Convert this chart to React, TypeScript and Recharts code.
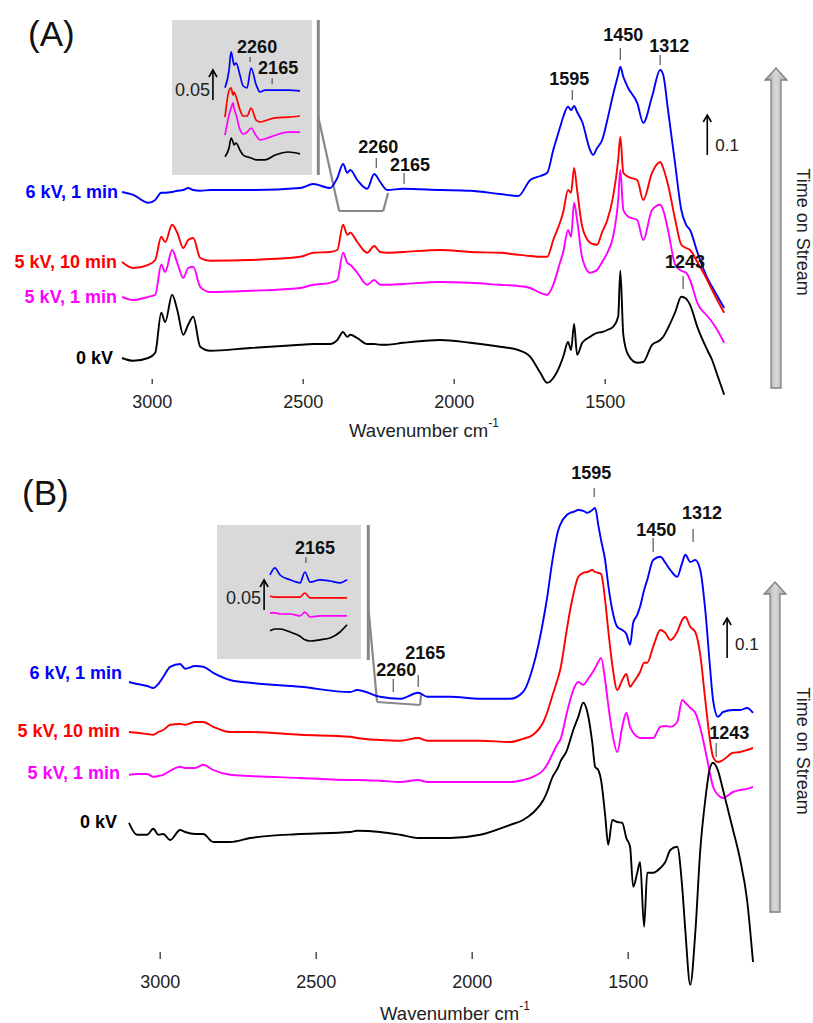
import React from "react";
import { LineChart, Line, XAxis, YAxis, ReferenceDot, ReferenceLine } from "recharts";

const FONT = "'Liberation Sans', Arial, sans-serif";

// ---- panel (A) ----
const wnA = [3100, 3063, 3013, 2990, 2970, 2957, 2934, 2917, 2897, 2881, 2864, 2841, 2808, 2676, 2510, 2467, 2411, 2387, 2368, 2354, 2344, 2321, 2288, 2265, 2245, 2222, 2169, 2046, 1947, 1848, 1788, 1748, 1715, 1692, 1672, 1649, 1639, 1623, 1613, 1603, 1593, 1576, 1550, 1540, 1527, 1510, 1493, 1474, 1457, 1450, 1440, 1424, 1394, 1374, 1345, 1318, 1308, 1292, 1268, 1248, 1232, 1219, 1195, 1162, 1146, 1129, 1106];
const blueA = [0.52, 0.513, 0.493, 0.5, 0.518, 0.518, 0.52, 0.523, 0.525, 0.53, 0.525, 0.523, 0.525, 0.525, 0.53, 0.54, 0.53, 0.555, 0.59, 0.568, 0.575, 0.55, 0.528, 0.565, 0.545, 0.525, 0.528, 0.525, 0.523, 0.515, 0.51, 0.55, 0.56, 0.568, 0.625, 0.683, 0.708, 0.733, 0.725, 0.735, 0.72, 0.695, 0.625, 0.613, 0.63, 0.65, 0.7, 0.763, 0.813, 0.833, 0.808, 0.78, 0.743, 0.693, 0.758, 0.825, 0.813, 0.725, 0.588, 0.475, 0.438, 0.425, 0.37, 0.305, 0.283, 0.26, 0.23];
const redA = [0.345, 0.33, 0.338, 0.35, 0.408, 0.395, 0.438, 0.418, 0.38, 0.4, 0.405, 0.355, 0.348, 0.35, 0.358, 0.368, 0.37, 0.375, 0.438, 0.413, 0.418, 0.395, 0.368, 0.385, 0.37, 0.368, 0.37, 0.375, 0.37, 0.368, 0.363, 0.36, 0.358, 0.358, 0.4, 0.445, 0.47, 0.525, 0.518, 0.58, 0.525, 0.433, 0.393, 0.39, 0.388, 0.42, 0.45, 0.508, 0.6, 0.658, 0.568, 0.558, 0.55, 0.5, 0.568, 0.595, 0.58, 0.538, 0.45, 0.388, 0.38, 0.375, 0.345, 0.3, 0.275, 0.25, 0.218];
const magentaA = [0.258, 0.25, 0.258, 0.263, 0.338, 0.32, 0.375, 0.343, 0.305, 0.33, 0.333, 0.283, 0.27, 0.273, 0.28, 0.288, 0.293, 0.3, 0.368, 0.343, 0.338, 0.318, 0.288, 0.3, 0.288, 0.288, 0.29, 0.295, 0.293, 0.288, 0.285, 0.28, 0.268, 0.263, 0.288, 0.345, 0.37, 0.425, 0.408, 0.493, 0.45, 0.355, 0.318, 0.32, 0.325, 0.345, 0.368, 0.408, 0.5, 0.575, 0.475, 0.458, 0.45, 0.4, 0.475, 0.488, 0.475, 0.425, 0.338, 0.323, 0.318, 0.3, 0.243, 0.21, 0.195, 0.175, 0.143];
const blackA = [0.105, 0.098, 0.105, 0.118, 0.218, 0.195, 0.263, 0.225, 0.163, 0.188, 0.208, 0.133, 0.123, 0.13, 0.138, 0.14, 0.14, 0.15, 0.17, 0.158, 0.163, 0.155, 0.14, 0.14, 0.138, 0.138, 0.143, 0.15, 0.143, 0.133, 0.125, 0.108, 0.068, 0.043, 0.055, 0.088, 0.108, 0.145, 0.125, 0.19, 0.113, 0.143, 0.158, 0.163, 0.168, 0.17, 0.175, 0.183, 0.208, 0.323, 0.163, 0.113, 0.093, 0.095, 0.138, 0.15, 0.158, 0.18, 0.22, 0.258, 0.253, 0.238, 0.183, 0.125, 0.1, 0.063, 0.013];

// inset of (A): 2400-2015 cm-1
const wnInsetA = [2400, 2379, 2369, 2359, 2354, 2343, 2323, 2307, 2287, 2266, 2240, 2220, 2194, 2142, 2075, 2015];
const blueInsetA = [0.137, 0.167, 0.197, 0.183, 0.175, 0.178, 0.158, 0.14, 0.137, 0.17, 0.142, 0.13, 0.133, 0.133, 0.133, 0.132];
const redInsetA = [0.088, 0.133, 0.137, 0.125, 0.13, 0.122, 0.1, 0.09, 0.09, 0.103, 0.083, 0.08, 0.082, 0.087, 0.088, 0.09];
const magentaInsetA = [0.058, 0.092, 0.103, 0.112, 0.103, 0.092, 0.067, 0.06, 0.063, 0.07, 0.057, 0.05, 0.052, 0.058, 0.063, 0.063];
const blackInsetA = [0.022, 0.037, 0.053, 0.047, 0.042, 0.045, 0.033, 0.025, 0.022, 0.02, 0.017, 0.017, 0.017, 0.025, 0.03, 0.027];

// ---- panel (B) ----
const wnB = [3100, 3074, 3042, 3022, 3006, 2990, 2968, 2936, 2920, 2888, 2862, 2830, 2776, 2712, 2551, 2391, 2369, 2295, 2231, 2173, 2144, 2071, 1974, 1878, 1837, 1805, 1772, 1760, 1744, 1724, 1718, 1696, 1686, 1676, 1660, 1644, 1631, 1615, 1606, 1596, 1587, 1574, 1564, 1551, 1535, 1519, 1506, 1494, 1484, 1471, 1462, 1449, 1439, 1420, 1397, 1381, 1365, 1343, 1327, 1317, 1301, 1285, 1269, 1253, 1237, 1228, 1212, 1196, 1164, 1141, 1119, 1100];
const blueB = [0.77, 0.765, 0.76, 0.755, 0.765, 0.783, 0.808, 0.815, 0.803, 0.81, 0.808, 0.793, 0.775, 0.768, 0.758, 0.745, 0.75, 0.733, 0.728, 0.743, 0.733, 0.733, 0.728, 0.728, 0.745, 0.808, 0.925, 0.98, 1.068, 1.15, 1.163, 1.188, 1.193, 1.195, 1.2, 1.198, 1.193, 1.2, 1.205, 1.163, 1.125, 1.075, 1.013, 0.95, 0.908, 0.9, 0.89, 0.863, 0.918, 0.938, 0.958, 1.0, 1.025, 1.075, 1.083, 1.068, 1.05, 1.033, 1.068, 1.088, 1.07, 1.075, 1.05, 0.95, 0.8, 0.725, 0.683, 0.695, 0.7, 0.7, 0.705, 0.693];
const redB = [0.645, 0.643, 0.64, 0.638, 0.645, 0.65, 0.663, 0.665, 0.663, 0.67, 0.67, 0.658, 0.645, 0.645, 0.638, 0.633, 0.63, 0.625, 0.623, 0.63, 0.623, 0.623, 0.623, 0.62, 0.628, 0.638, 0.67, 0.693, 0.733, 0.783, 0.8, 0.905, 0.95, 0.988, 1.033, 1.043, 1.045, 1.05, 1.045, 1.043, 1.04, 0.975, 0.9, 0.813, 0.75, 0.775, 0.79, 0.758, 0.768, 0.783, 0.795, 0.818, 0.818, 0.858, 0.9, 0.893, 0.875, 0.895, 0.925, 0.933, 0.908, 0.895, 0.838, 0.725, 0.62, 0.583, 0.57, 0.575, 0.593, 0.595, 0.6, 0.605];
const magentaB = [0.538, 0.54, 0.54, 0.533, 0.535, 0.538, 0.548, 0.558, 0.555, 0.555, 0.563, 0.55, 0.538, 0.535, 0.53, 0.525, 0.525, 0.523, 0.52, 0.525, 0.52, 0.52, 0.52, 0.52, 0.525, 0.533, 0.55, 0.563, 0.588, 0.618, 0.625, 0.695, 0.725, 0.75, 0.77, 0.763, 0.775, 0.793, 0.805, 0.82, 0.83, 0.775, 0.713, 0.643, 0.595, 0.658, 0.693, 0.658, 0.643, 0.633, 0.63, 0.63, 0.63, 0.63, 0.658, 0.66, 0.658, 0.67, 0.725, 0.718, 0.705, 0.693, 0.655, 0.6, 0.538, 0.508, 0.488, 0.48, 0.495, 0.5, 0.503, 0.508];
const blackB = [0.418, 0.388, 0.388, 0.403, 0.388, 0.39, 0.375, 0.4, 0.395, 0.39, 0.39, 0.37, 0.37, 0.38, 0.39, 0.395, 0.398, 0.395, 0.388, 0.38, 0.38, 0.38, 0.388, 0.413, 0.425, 0.443, 0.475, 0.495, 0.53, 0.558, 0.57, 0.6, 0.625, 0.65, 0.683, 0.718, 0.695, 0.618, 0.558, 0.55, 0.525, 0.438, 0.363, 0.425, 0.42, 0.418, 0.38, 0.358, 0.258, 0.293, 0.32, 0.158, 0.293, 0.293, 0.305, 0.32, 0.35, 0.358, 0.258, 0.15, 0.013, 0.143, 0.35, 0.475, 0.558, 0.568, 0.548, 0.5, 0.4, 0.325, 0.225, 0.07];

// inset of (B): 2300-2000 cm-1
const wnInsetB = [2300, 2281, 2261, 2222, 2183, 2164, 2144, 2105, 2066, 2027, 2000];
const blueInsetB = [0.125, 0.137, 0.125, 0.117, 0.112, 0.13, 0.113, 0.117, 0.115, 0.112, 0.117];
const redInsetB = [0.09, 0.088, 0.088, 0.088, 0.088, 0.095, 0.087, 0.087, 0.087, 0.087, 0.087];
const magentaInsetB = [0.062, 0.062, 0.06, 0.06, 0.057, 0.063, 0.055, 0.057, 0.057, 0.057, 0.057];
const blackInsetB = [0.032, 0.035, 0.035, 0.03, 0.023, 0.017, 0.015, 0.017, 0.02, 0.03, 0.042];

const xTicks = [3000, 2500, 2000, 1500];

const SERIES = [
  { key: "blue", name: "6 kV, 1 min", color: "#0000ff" },
  { key: "red", name: "5 kV, 10 min", color: "#ff0000" },
  { key: "magenta", name: "5 kV, 1 min", color: "#ff00ff" },
  { key: "black", name: "0 kV", color: "#000000" },
];

type Peak = { wn: number; v: number; text: string; len: number; gap: number; dx: number };

const peaksA: Peak[] = [
  { wn: 2258, v: 0.58, text: "2260", len: 10, gap: 11, dx: 2 },
  { wn: 2166, v: 0.54, text: "2165", len: 11, gap: 8, dx: 6 },
  { wn: 1609, v: 0.75, text: "1595", len: 10, gap: 11, dx: -3 },
  { wn: 1450, v: 0.85, text: "1450", len: 12, gap: 13, dx: 3 },
  { wn: 1318, v: 0.8375, text: "1312", len: 10, gap: 9, dx: 9 },
  { wn: 1242, v: 0.2775, text: "1243", len: 13, gap: 14, dx: 2 },
];
const peaksB: Peak[] = [
  { wn: 2253, v: 0.745, text: "2260", len: 13, gap: 9, dx: 3 },
  { wn: 2173, v: 0.7575, text: "2165", len: 12, gap: 22, dx: 7 },
  { wn: 1609, v: 1.2325, text: "1595", len: 9, gap: 15, dx: -3 },
  { wn: 1420, v: 1.095, text: "1450", len: 14, gap: 8, dx: 3 },
  { wn: 1292, v: 1.12, text: "1312", len: 13, gap: 16, dx: 9 },
  { wn: 1218, v: 0.5825, text: "1243", len: 14, gap: 10, dx: 13 },
];
const peaksInsetA: Peak[] = [
  { wn: 2271, v: 0.18, text: "2260", len: 5, gap: 10, dx: 7 },
  { wn: 2158, v: 0.143, text: "2165", len: 6, gap: 10, dx: 6 },
];
const peaksInsetB: Peak[] = [{ wn: 2160, v: 0.145, text: "2165", len: 6, gap: 9, dx: 9 }];

// label offsets (px) of the series names relative to each trace start
const nameOffsetsA = [
  { dx: -4, dy: 0 },
  { dx: -5, dy: 0 },
  { dx: -5, dy: 0 },
  { dx: -9, dy: 0 },
];
const nameOffsetsB = [
  { dx: -7, dy: -9 },
  { dx: -9, dy: -1 },
  { dx: -9, dy: -2 },
  { dx: -12, dy: -1 },
];

function buildRows(wn: number[], b: number[], r: number[], m: number[], k: number[]) {
  return wn.map((w, i) => ({ wn: w, blue: b[i], red: r[i], magenta: m[i], black: k[i] }));
}

const rowsA = buildRows(wnA, blueA, redA, magentaA, blackA);
const rowsB = buildRows(wnB, blueB, redB, magentaB, blackB);
const rowsInsetA = buildRows(wnInsetA, blueInsetA, redInsetA, magentaInsetA, blackInsetA);
const rowsInsetB = buildRows(wnInsetB, blueInsetB, redInsetB, magentaInsetB, blackInsetB);

// ticks sit above the axis line in the original, so they are drawn by hand
function makeTick(markTop: number, markBottom: number, labelDy: number) {
  return (props: any) => {
    const { x, y, payload } = props;
    return (
      <g>
        <line x1={x} x2={x} y1={y + markTop} y2={y + markBottom} stroke="#333" strokeWidth={1.3} />
        <text
          x={x}
          y={y + labelDy}
          textAnchor="middle"
          dominantBaseline="central"
          fontSize={18}
          fill="#222"
          fontFamily={FONT}
        >
          {payload.value}
        </text>
      </g>
    );
  };
}

function peakShape(p: Peak, fontSize: number, tickColor: string) {
  return (props: any) => {
    const { cx, cy } = props;
    return (
      <g>
        <line x1={cx} x2={cx} y1={cy} y2={cy - p.len} stroke={tickColor} strokeWidth={1.2} />
        <text
          x={cx + p.dx}
          y={cy - p.len - p.gap}
          textAnchor="middle"
          dominantBaseline="central"
          fontWeight="bold"
          fontSize={fontSize}
          fill="#111"
          fontFamily={FONT}
        >
          {p.text}
        </text>
      </g>
    );
  };
}

function nameShape(text: string, color: string, dx: number, dy: number) {
  return (props: any) => (
    <text
      x={props.cx + dx}
      y={props.cy + dy}
      textAnchor="end"
      dominantBaseline="central"
      fontWeight="bold"
      fontSize={18}
      fill={color}
      fontFamily={FONT}
    >
      {text}
    </text>
  );
}

function scaleBarShape(label: string, fontSize: number, side: "left" | "right", labelUp: number) {
  return (props: any) => {
    const { x1, y1, y2 } = props;
    const top = Math.min(y1, y2);
    const bottom = Math.max(y1, y2);
    return (
      <g>
        <line x1={x1} x2={x1} y1={top + 1} y2={bottom} stroke="#000" strokeWidth={1.6} />
        <path d={`M${x1 - 4},${top + 7} L${x1},${top} L${x1 + 4},${top + 7}`} fill="none" stroke="#000" strokeWidth={1.6} />
        <text
          x={side === "right" ? x1 + 8 : x1 - 3}
          y={bottom - labelUp}
          textAnchor={side === "right" ? "start" : "end"}
          dominantBaseline="central"
          fontSize={fontSize}
          fill="#222"
          fontFamily={FONT}
        >
          {label}
        </text>
      </g>
    );
  };
}

type Seg = [number, number, number, number];

const connectorA: Seg[] = [
  [2450, 0.95, 2450, 0.5625],
  [2450, 0.7075, 2381, 0.4725],
  [2381, 0.4725, 2235, 0.4725],
  [2235, 0.4725, 2219, 0.5175],
];
const connectorB: Seg[] = [
  [2333, 1.1625, 2333, 0.825],
  [2333, 0.9575, 2305, 0.72],
  [2305, 0.72, 2167, 0.7125],
  [2167, 0.7125, 2164, 0.7375],
];

type PanelProps = {
  rows: any[];
  top: number;
  height: number;
  margin: { top: number; right: number; bottom: number; left: number };
  yMax: number;
  peaks: Peak[];
  names: { dx: number; dy: number }[];
  connector: Seg[];
  bar: { wn: number; v: number; up: number };
  tick: (p: any) => React.ReactElement;
};

function Panel({ rows, top, height, margin, yMax, peaks, names, connector, bar, tick }: PanelProps) {
  return (
    <div style={{ position: "absolute", left: 0, top, width: 813, height }}>
      <LineChart width={813} height={height} data={rows} margin={margin}>
        <XAxis
          dataKey="wn"
          type="number"
          domain={[1100, 3100]}
          reversed
          ticks={xTicks}
          interval={0}
          height={30}
          axisLine={false}
          tickLine={false}
          tickSize={0}
          tickMargin={0}
          tick={tick}
        />
        <YAxis hide type="number" domain={[0, yMax]} />
        {connector.map((s, i) => (
          <ReferenceLine
            key={`c${i}`}
            segment={[{ x: s[0], y: s[1] }, { x: s[2], y: s[3] }]}
            stroke="#888"
            strokeWidth={i === 0 ? 3 : 2.2}
            ifOverflow="visible"
          />
        ))}
        {SERIES.map((s) => (
          <Line
            key={s.key}
            dataKey={s.key}
            type="monotone"
            stroke={s.color}
            strokeWidth={1.9}
            dot={false}
            isAnimationActive={false}
          />
        ))}
        {SERIES.map((s, i) => (
          <ReferenceDot
            key={`n${s.key}`}
            x={rows[0].wn}
            y={rows[0][s.key]}
            r={0}
            ifOverflow="visible"
            shape={nameShape(s.name, s.color, names[i].dx, names[i].dy)}
          />
        ))}
        {peaks.map((p) => (
          <ReferenceDot key={`p${p.text}`} x={p.wn} y={p.v} r={0} ifOverflow="visible" shape={peakShape(p, 18, "#555")} />
        ))}
        <ReferenceLine
          segment={[{ x: bar.wn, y: bar.v }, { x: bar.wn, y: bar.v + 0.1 }]}
          ifOverflow="visible"
          shape={scaleBarShape("0.1", 17, "right", bar.up)}
        />
      </LineChart>
    </div>
  );
}

type InsetProps = {
  rows: any[];
  left: number;
  top: number;
  width: number;
  height: number;
  margin: { top: number; right: number; bottom: number; left: number };
  domain: [number, number];
  yMax: number;
  peaks: Peak[];
  bar: { wn: number; v: number; up: number };
};

function Inset({ rows, left, top, width, height, margin, domain, yMax, peaks, bar }: InsetProps) {
  return (
    <div style={{ position: "absolute", left, top, width, height, background: "#d9d9d9" }}>
      <LineChart width={width} height={height} data={rows} margin={margin}>
        <XAxis dataKey="wn" type="number" domain={domain} reversed hide />
        <YAxis hide type="number" domain={[0, yMax]} />
        {SERIES.map((s) => (
          <Line
            key={s.key}
            dataKey={s.key}
            type="monotone"
            stroke={s.color}
            strokeWidth={1.7}
            dot={false}
            isAnimationActive={false}
          />
        ))}
        {peaks.map((p) => (
          <ReferenceDot key={p.text} x={p.wn} y={p.v} r={0} ifOverflow="visible" shape={peakShape(p, 18, "#555")} />
        ))}
        <ReferenceLine
          segment={[{ x: bar.wn, y: bar.v }, { x: bar.wn, y: bar.v + 0.05 }]}
          ifOverflow="visible"
          shape={scaleBarShape("0.05", 18, "left", bar.up)}
        />
      </LineChart>
    </div>
  );
}

function StreamArrow({ x, tip, bottom }: { x: number; tip: number; bottom: number }) {
  const d = `M${x},${tip} L${x + 11},${tip + 12} L${x + 5},${tip + 12} L${x + 5},${bottom} L${x - 5},${bottom} L${x - 5},${tip + 12} L${x - 11},${tip + 12} Z`;
  return <path d={d} fill="url(#streamFill)" stroke="#808080" strokeWidth={1.3} />;
}

export default function App() {
  return (
    <div style={{ position: "absolute", left: 0, top: 0, width: 813, height: 1023, background: "#fff", fontFamily: FONT }}>
      <Panel
        rows={rowsA}
        top={0}
        height={450}
        margin={{ top: 20, right: 87, bottom: 20, left: 122 }}
        yMax={0.95}
        peaks={peaksA}
        names={nameOffsetsA}
        connector={connectorA}
        bar={{ wn: 1162, v: 0.6125, up: 10 }}
        tick={makeTick(-21, -16, 2)}
      />
      <Panel
        rows={rowsB}
        top={460}
        height={563}
        margin={{ top: 30, right: 60, bottom: 3, left: 129 }}
        yMax={1.25}
        peaks={peaksB}
        names={nameOffsetsB}
        connector={connectorB}
        bar={{ wn: 1183, v: 0.83, up: 14 }}
        tick={makeTick(-38, -31, -8)}
      />
      <Inset
        rows={rowsInsetA}
        left={172}
        top={20}
        width={140}
        height={155}
        margin={{ top: 18, right: 12, bottom: 5, left: 53 }}
        domain={[2015, 2400]}
        yMax={0.22}
        peaks={peaksInsetA}
        bar={{ wn: 2462, v: 0.1167, up: 10 }}
      />
      <Inset
        rows={rowsInsetB}
        left={217}
        top={525}
        width={144}
        height={134}
        margin={{ top: 5, right: 14, bottom: 9, left: 53 }}
        domain={[2000, 2300]}
        yMax={0.2}
        peaks={peaksInsetB}
        bar={{ wn: 2323, v: 0.0667, up: 12 }}
      />
      <svg
        width={813}
        height={1023}
        style={{ position: "absolute", left: 0, top: 0, pointerEvents: "none" }}
      >
        <defs>
          <linearGradient id="streamFill" x1="0" y1="0" x2="1" y2="0">
            <stop offset="0%" stopColor="#9a9a9a" />
            <stop offset="50%" stopColor="#d8d8d8" />
            <stop offset="100%" stopColor="#a8a8a8" />
          </linearGradient>
        </defs>
        <text x={28} y={33} dominantBaseline="central" fontSize={35} fill="#111" fontFamily={FONT}>
          (A)
        </text>
        <text x={22} y={492} dominantBaseline="central" fontSize={35} fill="#111" fontFamily={FONT}>
          (B)
        </text>
        <StreamArrow x={776} tip={68} bottom={388} />
        <StreamArrow x={775} tip={582} bottom={912} />
        <text
          x={803}
          y={232}
          transform="rotate(90 803 232)"
          textAnchor="middle"
          dominantBaseline="central"
          fontSize={18}
          fill="#222"
          fontFamily={FONT}
        >
          Time on Stream
        </text>
        <text
          x={803}
          y={751}
          transform="rotate(90 803 751)"
          textAnchor="middle"
          dominantBaseline="central"
          fontSize={18}
          fill="#222"
          fontFamily={FONT}
        >
          Time on Stream
        </text>
        <text x={424} y={430} textAnchor="middle" dominantBaseline="central" fontSize={18.5} fill="#222" fontFamily={FONT}>
          Wavenumber cm<tspan fontSize={12} dy={-7}>-1</tspan>
        </text>
        <text x={455} y={1013} textAnchor="middle" dominantBaseline="central" fontSize={18.5} fill="#222" fontFamily={FONT}>
          Wavenumber cm<tspan fontSize={12} dy={-7}>-1</tspan>
        </text>
      </svg>
    </div>
  );
}
